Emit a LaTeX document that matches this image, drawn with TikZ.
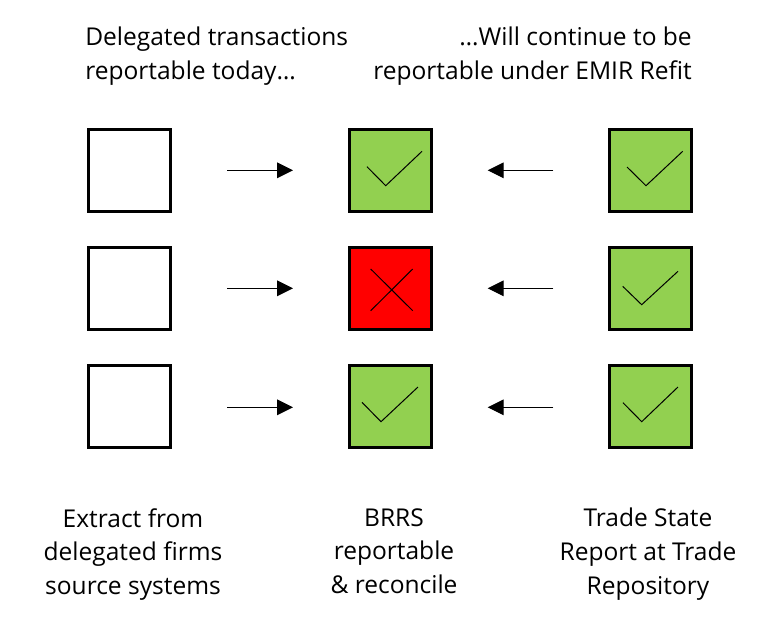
\documentclass[tikz,border=0pt]{standalone}
\usepackage{fontspec}
\setmainfont{Open Sans}
\usetikzlibrary{arrows.meta}
\definecolor{okgreen}{HTML}{92D050}
\tikzset{x=0.75pt,y=-0.75pt,
 box/.style={draw=black,line width=2.3pt,minimum size=61.5pt,inner sep=0,anchor=center},
 okbox/.style={box,fill=okgreen},
 badbox/.style={box,fill=red},
 flow/.style={draw=black,line width=0.75pt,-{Triangle[length=12pt,width=11.8pt]}},
 lbl/.style={font=\fontsize{18.4pt}{25.2pt}\selectfont,align=center,inner sep=0},
 tick/.style={draw=black,line width=0.75pt}}
\begin{document}
\begin{tikzpicture}
\useasboundingbox (0,0) rectangle (778,626);
\fill[white] (0,0) rectangle (778,626);
\node[box] (a1) at (129.8,170.3) {};
\node[box] (a2) at (129.8,288.4) {};
\node[box] (a3) at (129.8,406.3) {};
\node[okbox] (b1) at (390.3,170.3) {};
\node[badbox] (b2) at (390.3,288.8) {};
\node[okbox] (b3) at (390.3,406.3) {};
\node[okbox] (c1) at (650.8,170.3) {};
\node[okbox] (c2) at (650.8,288.8) {};
\node[okbox] (c3) at (650.8,406.3) {};
\coordinate (s1) at (227.3,170.3); \coordinate (e1) at (293,170.3);
\coordinate (s2) at (227.3,288.3); \coordinate (e2) at (293,288.3);
\coordinate (s3) at (227.3,407.3); \coordinate (e3) at (293,407.3);
\coordinate (t1) at (553.3,170.3); \coordinate (f1) at (487.7,170.3);
\coordinate (t2) at (553.3,288.3); \coordinate (f2) at (487.7,288.3);
\coordinate (t3) at (553.3,407.3); \coordinate (f3) at (487.7,407.3);
\foreach \i in {1,2,3}{\draw[flow] (s\i) -- (e\i); \draw[flow] (t\i) -- (f\i);}
\draw[tick] (367,166.7) -- (385.7,185.7) -- (422,151.3);
\draw[tick] (627,167) -- (646,185.7) -- (682.7,151.3);
\draw[tick] (622.7,286.3) -- (641.7,304.7) -- (678,271.3);
\draw[tick] (362,402.3) -- (381,421.7) -- (418,387);
\draw[tick] (623,402.7) -- (641.7,421.7) -- (678,387);
\draw[tick] (370.7,269) -- (412.7,310.7);
\draw[tick] (370.7,310.7) -- (412.7,269);
\node[lbl,align=left,anchor=north west] (h1) at (85,27) {Delegated transactions\\reportable today…};
\node[lbl,align=right,anchor=north east] (h2) at (692,27) {…Will continue to be\\reportable under EMIR Refit};
\node[lbl,anchor=north] (l1) at (133,508) {Extract from\\delegated firms\\source systems};
\node[lbl,anchor=north] (l2) at (394,508) {BRRS\\reportable\\\& reconcile};
\node[lbl,anchor=north] (l3) at (648,508) {Trade State\\Report at Trade\\Repository};
\end{tikzpicture}
\end{document}
